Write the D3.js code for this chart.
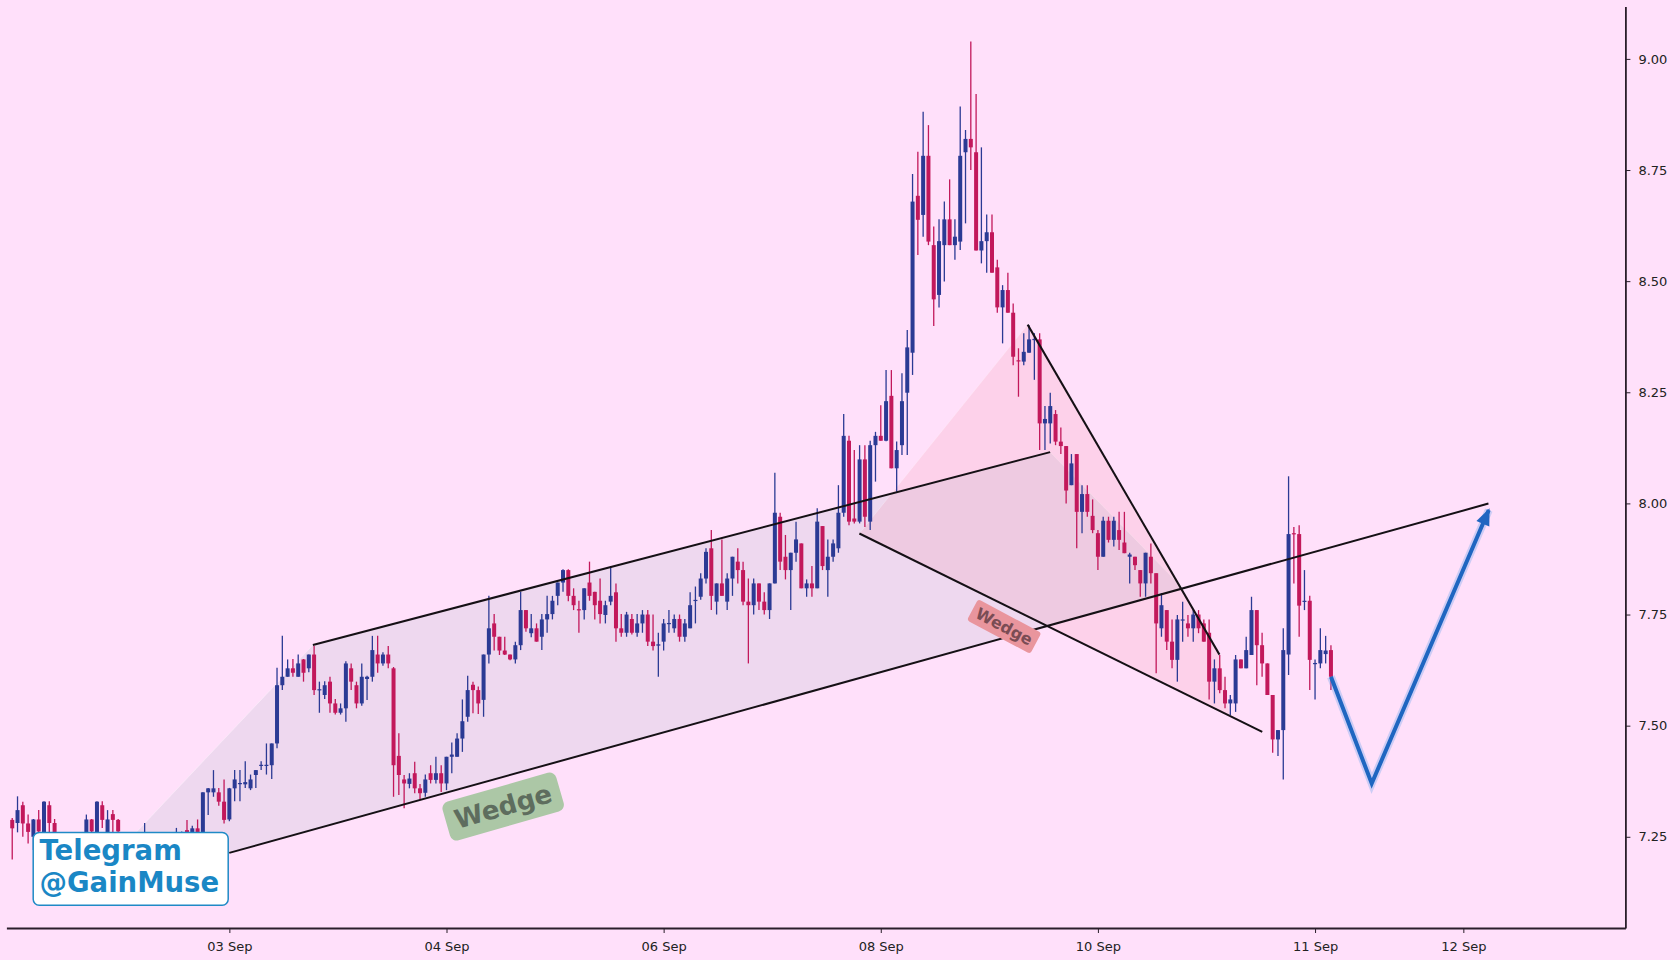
<!DOCTYPE html>
<html><head><meta charset="utf-8">
<script src="https://cdn.jsdelivr.net/npm/d3@7"></script>
<style>html,body{margin:0;padding:0;background:#ffe0fa;} svg{display:block;font-family:"DejaVu Sans",sans-serif;}</style>
</head><body>
<svg id="c" width="1680" height="960"></svg>
<script>
const opens=[7.288,7.281,7.321,7.280,7.250,7.289,7.250,7.321,7.281,7.255,
7.235,7.215,7.230,7.210,7.240,7.289,7.260,7.321,7.260,7.301,
7.288,7.255,7.230,7.220,7.235,7.250,7.255,7.225,7.210,7.230,
7.240,7.248,7.252,7.265,7.260,7.269,7.258,7.350,7.350,7.350,
7.329,7.289,7.359,7.370,7.368,7.359,7.389,7.410,7.410,7.411,
7.460,7.591,7.610,7.629,7.610,7.649,7.629,7.660,7.580,7.569,
7.599,7.550,7.529,7.539,7.629,7.591,7.550,7.605,7.610,7.660,
7.640,7.660,7.629,7.432,7.379,7.369,7.393,7.359,7.349,7.393,
7.378,7.393,7.370,7.430,7.430,7.471,7.520,7.592,7.580,7.558,
7.660,7.730,7.700,7.669,7.660,7.649,7.681,7.760,7.708,7.719,
7.700,7.739,7.751,7.792,7.822,7.850,7.792,7.762,7.760,7.822,
7.801,7.781,7.749,7.779,7.800,7.719,7.709,7.740,7.709,7.730,
7.750,7.689,7.680,7.689,7.730,7.719,7.740,7.700,7.719,7.781,
7.790,7.831,7.899,7.779,7.820,7.779,7.831,7.869,7.850,7.779,
7.771,7.820,7.779,7.760,7.820,7.970,7.880,7.850,7.889,7.910,
7.809,7.820,7.809,7.949,7.850,7.880,7.899,7.979,8.141,7.966,
7.959,8.099,7.959,8.131,8.152,8.141,8.242,8.079,8.131,8.249,
8.339,8.692,8.649,8.782,8.581,8.469,8.581,8.639,8.581,8.589,
8.790,8.820,8.790,8.569,8.590,8.610,8.531,8.441,8.480,8.429,
8.322,8.319,8.339,8.369,8.369,8.180,8.180,8.201,8.139,8.129,
8.041,8.111,7.981,8.021,7.972,7.933,7.880,7.961,7.918,7.940,
7.912,7.880,7.880,7.850,7.820,7.880,7.843,7.719,7.760,7.689,
7.648,7.737,7.730,7.719,7.750,7.730,7.709,7.599,7.629,7.580,
7.550,7.550,7.649,7.629,7.659,7.760,7.681,7.640,7.569,7.469,
7.490,7.660,7.933,7.931,7.780,7.781,7.640,7.640,7.661,7.670];
const highs=[7.292,7.341,7.329,7.300,7.290,7.310,7.330,7.330,7.290,7.258,
7.245,7.240,7.240,7.250,7.300,7.290,7.330,7.330,7.310,7.310,
7.290,7.258,7.245,7.240,7.250,7.281,7.258,7.240,7.235,7.245,
7.252,7.270,7.262,7.288,7.275,7.289,7.350,7.360,7.400,7.360,
7.379,7.360,7.400,7.400,7.420,7.390,7.400,7.420,7.460,7.460,
7.630,7.702,7.649,7.650,7.660,7.650,7.660,7.679,7.599,7.600,
7.610,7.560,7.550,7.645,7.640,7.599,7.640,7.612,7.702,7.702,
7.665,7.679,7.632,7.483,7.389,7.393,7.419,7.369,7.390,7.411,
7.430,7.411,7.430,7.462,7.483,7.559,7.612,7.599,7.588,7.660,
7.792,7.751,7.700,7.700,7.660,7.689,7.801,7.760,7.751,7.730,
7.751,7.792,7.792,7.822,7.852,7.852,7.809,7.781,7.809,7.869,
7.801,7.831,7.781,7.859,7.820,7.751,7.756,7.751,7.751,7.760,
7.760,7.750,7.709,7.740,7.760,7.750,7.750,7.740,7.800,7.813,
7.843,7.899,7.940,7.820,7.919,7.843,7.880,7.899,7.869,7.831,
7.831,7.820,7.800,7.820,8.069,7.979,7.929,7.889,7.959,7.910,
7.829,7.859,7.989,7.949,7.919,7.919,8.041,8.201,8.152,8.120,
8.131,8.131,8.141,8.161,8.221,8.300,8.300,8.139,8.293,8.390,
8.741,8.791,8.881,8.851,8.623,8.639,8.679,8.729,8.639,8.893,
8.840,9.039,8.921,8.801,8.650,8.650,8.548,8.491,8.519,8.450,
8.349,8.383,8.401,8.383,8.383,8.219,8.249,8.210,8.171,8.129,
8.111,8.111,8.041,8.041,8.009,7.940,7.970,7.970,7.970,7.981,
7.981,7.889,7.880,7.850,7.889,7.910,7.843,7.798,7.760,7.739,
7.749,7.779,7.749,7.760,7.760,7.739,7.739,7.649,7.659,7.610,
7.569,7.659,7.649,7.700,7.790,7.760,7.709,7.640,7.569,7.490,
7.719,8.061,7.947,7.951,7.850,7.792,7.649,7.719,7.702,7.681];
const lows=[7.199,7.260,7.250,7.235,7.220,7.230,7.240,7.260,7.240,7.210,
7.200,7.205,7.195,7.200,7.220,7.230,7.240,7.270,7.250,7.260,
7.240,7.215,7.200,7.195,7.215,7.235,7.215,7.200,7.195,7.210,
7.220,7.235,7.240,7.245,7.250,7.250,7.250,7.299,7.340,7.320,
7.280,7.285,7.330,7.330,7.360,7.355,7.360,7.400,7.390,7.380,
7.449,7.580,7.610,7.610,7.610,7.599,7.620,7.569,7.529,7.560,
7.529,7.525,7.525,7.509,7.580,7.539,7.545,7.558,7.599,7.619,
7.635,7.629,7.340,7.344,7.314,7.359,7.348,7.334,7.340,7.370,
7.370,7.351,7.355,7.393,7.430,7.441,7.509,7.528,7.526,7.520,
7.640,7.669,7.659,7.659,7.647,7.640,7.670,7.711,7.699,7.689,
7.670,7.709,7.739,7.771,7.801,7.780,7.760,7.709,7.739,7.781,
7.739,7.730,7.730,7.771,7.689,7.700,7.700,7.705,7.700,7.709,
7.679,7.669,7.610,7.669,7.709,7.709,7.689,7.689,7.719,7.730,
7.783,7.820,7.760,7.750,7.792,7.760,7.792,7.820,7.771,7.640,
7.750,7.760,7.750,7.740,7.820,7.850,7.829,7.760,7.869,7.809,
7.790,7.790,7.809,7.850,7.790,7.869,7.889,7.970,7.951,7.955,
7.955,7.947,7.940,8.049,8.141,8.140,8.079,8.026,8.109,8.109,
8.289,8.559,8.600,8.581,8.399,8.441,8.499,8.581,8.548,8.570,
8.630,8.750,8.569,8.540,8.519,8.519,8.429,8.360,8.429,8.311,
8.240,8.311,8.339,8.278,8.120,8.120,8.135,8.131,8.111,8.000,
8.041,7.899,7.933,7.970,7.933,7.850,7.880,7.912,7.903,7.895,
7.888,7.820,7.850,7.790,7.790,7.820,7.618,7.700,7.670,7.629,
7.599,7.689,7.700,7.689,7.708,7.689,7.559,7.550,7.573,7.539,
7.524,7.531,7.629,7.629,7.659,7.591,7.610,7.569,7.439,7.432,
7.379,7.614,7.820,7.700,7.760,7.580,7.559,7.629,7.640,7.580];
const closes=[7.269,7.310,7.280,7.261,7.289,7.262,7.329,7.281,7.260,7.235,
7.215,7.230,7.210,7.240,7.289,7.262,7.329,7.288,7.289,7.288,
7.262,7.230,7.220,7.235,7.245,7.258,7.225,7.210,7.230,7.240,
7.248,7.255,7.258,7.258,7.269,7.260,7.350,7.359,7.359,7.329,
7.288,7.359,7.379,7.371,7.373,7.379,7.400,7.412,7.412,7.460,
7.591,7.610,7.629,7.619,7.640,7.619,7.660,7.580,7.582,7.591,
7.550,7.529,7.539,7.640,7.599,7.550,7.610,7.610,7.670,7.640,
7.660,7.640,7.411,7.389,7.370,7.381,7.359,7.348,7.379,7.378,
7.393,7.370,7.430,7.435,7.471,7.510,7.580,7.580,7.550,7.660,
7.719,7.700,7.669,7.660,7.649,7.681,7.760,7.719,7.719,7.689,
7.739,7.751,7.781,7.822,7.850,7.792,7.771,7.760,7.809,7.792,
7.771,7.751,7.771,7.792,7.719,7.709,7.750,7.709,7.730,7.750,
7.689,7.679,7.683,7.730,7.731,7.740,7.700,7.730,7.771,7.783,
7.831,7.891,7.792,7.820,7.792,7.831,7.880,7.850,7.779,7.771,
7.820,7.779,7.760,7.820,7.979,7.869,7.850,7.889,7.919,7.809,
7.820,7.809,7.959,7.859,7.880,7.910,7.979,8.152,7.959,7.959,
8.099,7.970,8.131,8.152,8.141,8.230,8.079,8.120,8.230,8.351,
8.679,8.638,8.782,8.589,8.459,8.590,8.639,8.581,8.600,8.782,
8.820,8.801,8.569,8.590,8.610,8.519,8.441,8.480,8.429,8.330,
8.320,8.341,8.369,8.370,8.180,8.190,8.219,8.139,8.129,8.029,
8.090,7.981,8.021,7.981,7.940,7.880,7.961,7.918,7.961,7.918,
7.888,7.885,7.861,7.820,7.889,7.843,7.730,7.771,7.689,7.648,
7.739,7.739,7.719,7.750,7.719,7.689,7.599,7.629,7.580,7.550,
7.559,7.649,7.629,7.670,7.760,7.681,7.640,7.569,7.469,7.490,
7.670,7.931,7.931,7.770,7.781,7.648,7.641,7.670,7.669,7.610];

const xTickPos=[41,82,123,164,205,246,274];
const xTickLabels=["03 Sep","04 Sep","06 Sep","08 Sep","10 Sep","11 Sep","12 Sep"];
const yTicks=[7.25,7.50,7.75,8.00,8.25,8.50,8.75,9.00];

const risingUpper=[[56.77,7.6816],[195.98,8.1154]];
const risingLower=[[40.98,7.2138],[278.74,7.9996]];
const fallingUpper=[[191.73,8.4022],[227.95,7.6598]];
const fallingLower=[[159.96,7.9323],[236.03,7.4862]];
const greyZone=[[12.2,7.1185],[56.77,7.6816],[195.98,8.1154],[221.1,7.809]];
const pinkZone=[[159.96,7.9323],[191.73,8.4022],[227.95,7.6598],[229.97,7.5206]];
const projection=[[249,7.610],[256.7,7.370],[278.8,7.985]];
const labelGreen={text:"Wedge",at:[92.7,7.318]};
const labelRed={text:"Wedge",at:[187.3,7.723]};

const W=1680,H=960;
const svg=d3.select("#c");
svg.append("rect").attr("width",W).attr("height",H).attr("fill","#ffe0fa");

const x=d3.scaleLinear().domain([-1.1,304.6]).range([6.4,1625.4]);
const y=d3.scaleLinear().domain([7.0448,9.1181]).range([928,6.4]);

const blue="#2b3a94", red="#c2185b";
const line=d3.line().x(d=>x(d[0])).y(d=>y(d[1]));

// zones
svg.append("path").attr("d",line(greyZone)+"Z").attr("fill","rgba(150,175,185,0.16)").attr("stroke","rgba(255,255,255,0.35)").attr("stroke-width",1);
svg.append("path").attr("d",line(pinkZone)+"Z").attr("fill","rgba(240,128,150,0.15)").attr("stroke","rgba(255,255,255,0.25)").attr("stroke-width",1);

// candles
const idx=d3.range(opens.length);
const col=i=>closes[i]>=opens[i]?blue:red;
const bw=4;
svg.append("g").selectAll("line").data(idx).join("line")
  .attr("x1",i=>x(i)).attr("x2",i=>x(i))
  .attr("y1",i=>y(highs[i])).attr("y2",i=>y(lows[i]))
  .attr("stroke",col).attr("stroke-width",1.3);
svg.append("g").selectAll("rect").data(idx).join("rect")
  .attr("x",i=>x(i)-bw/2).attr("width",bw)
  .attr("y",i=>y(Math.max(opens[i],closes[i])))
  .attr("height",i=>Math.max(1.2,Math.abs(y(opens[i])-y(closes[i]))))
  .attr("fill",col);

// trend lines
[risingUpper,risingLower,fallingUpper,fallingLower].forEach(l=>{
  svg.append("path").attr("d",line(l)).attr("fill","none").attr("stroke","#151015").attr("stroke-width",2);
});

// projection arrow
svg.append("path").attr("d",line(projection)).attr("fill","none").attr("stroke","rgba(110,165,235,0.35)").attr("stroke-width",8).attr("stroke-linejoin","miter");
svg.append("path").attr("d",line(projection)).attr("fill","none").attr("stroke","#1f66c1").attr("stroke-width",4).attr("stroke-linejoin","miter");
{
  const n=projection.length;
  const p1=[x(projection[n-2][0]),y(projection[n-2][1])], p2=[x(projection[n-1][0]),y(projection[n-1][1])];
  const dx=p2[0]-p1[0], dy=p2[1]-p1[1], L=Math.hypot(dx,dy), ux=dx/L, uy=dy/L;
  const len=15, hw=7;
  const bx=p2[0]-ux*len, by=p2[1]-uy*len;
  svg.append("path").attr("d",`M${p2[0]+ux*2},${p2[1]+uy*2}L${bx-uy*hw},${by+ux*hw}L${bx+uy*hw},${by-ux*hw}Z`).attr("fill","#1f66c1");
}

// labels
function tag(o,rot,size,fill,tcol,padx,pady,rx){
  const g=svg.append("g").attr("transform",`translate(${x(o.at[0])},${y(o.at[1])}) rotate(${rot})`);
  const r=g.append("rect").attr("fill",fill).attr("rx",rx);
  const t=g.append("text").text(o.text).attr("text-anchor","middle").attr("dominant-baseline","central")
    .attr("font-size",size).attr("font-weight","bold").attr("fill",tcol);
  const w=t.node().getComputedTextLength();
  r.attr("x",-w/2-padx).attr("y",-size*0.62-pady).attr("width",w+2*padx).attr("height",size*1.24+2*pady);
}
tag(labelGreen,-16,26,"#acc7a6","#5e6d5e",9,4,7);
tag(labelRed,28,16,"#e9959d","#7a4c54",5,2,3);

// axes
const yAxis=d3.axisRight(y).tickValues(yTicks).tickFormat(d3.format(".2f")).tickSize(5).tickSizeOuter(0).tickPadding(8);
const ga=svg.append("g").attr("transform","translate(1625.4,0)").call(yAxis);
const xAxis=d3.axisBottom(x).tickValues(xTickPos).tickFormat((d,i)=>xTickLabels[i]).tickSize(5).tickSizeOuter(0).tickPadding(8.5);
const gb=svg.append("g").attr("transform","translate(0,928)").call(xAxis);
[ga,gb].forEach(g=>{
  g.select(".domain").attr("stroke","#2a1e2a").attr("stroke-width",1.8);
  g.selectAll(".tick line").attr("stroke","#2a1e2a").attr("stroke-width",1);
  g.selectAll(".tick text").attr("fill","#222").attr("font-size",13).attr("font-family","DejaVu Sans");
});

// telegram box
const tb=svg.append("g");
tb.append("rect").attr("x",33.2).attr("y",832.5).attr("width",195).attr("height",72.8).attr("rx",6)
  .attr("fill","#ffffff").attr("stroke","#1f8ac6").attr("stroke-width",1.5);
tb.append("text").attr("x",39.5).attr("y",860).text("Telegram").attr("font-size",27.5).attr("font-weight","bold").attr("fill","#1a87c5");
tb.append("text").attr("x",39.5).attr("y",892).text("@GainMuse").attr("font-size",27.5).attr("font-weight","bold").attr("fill","#1a87c5");
</script>
</body></html>
